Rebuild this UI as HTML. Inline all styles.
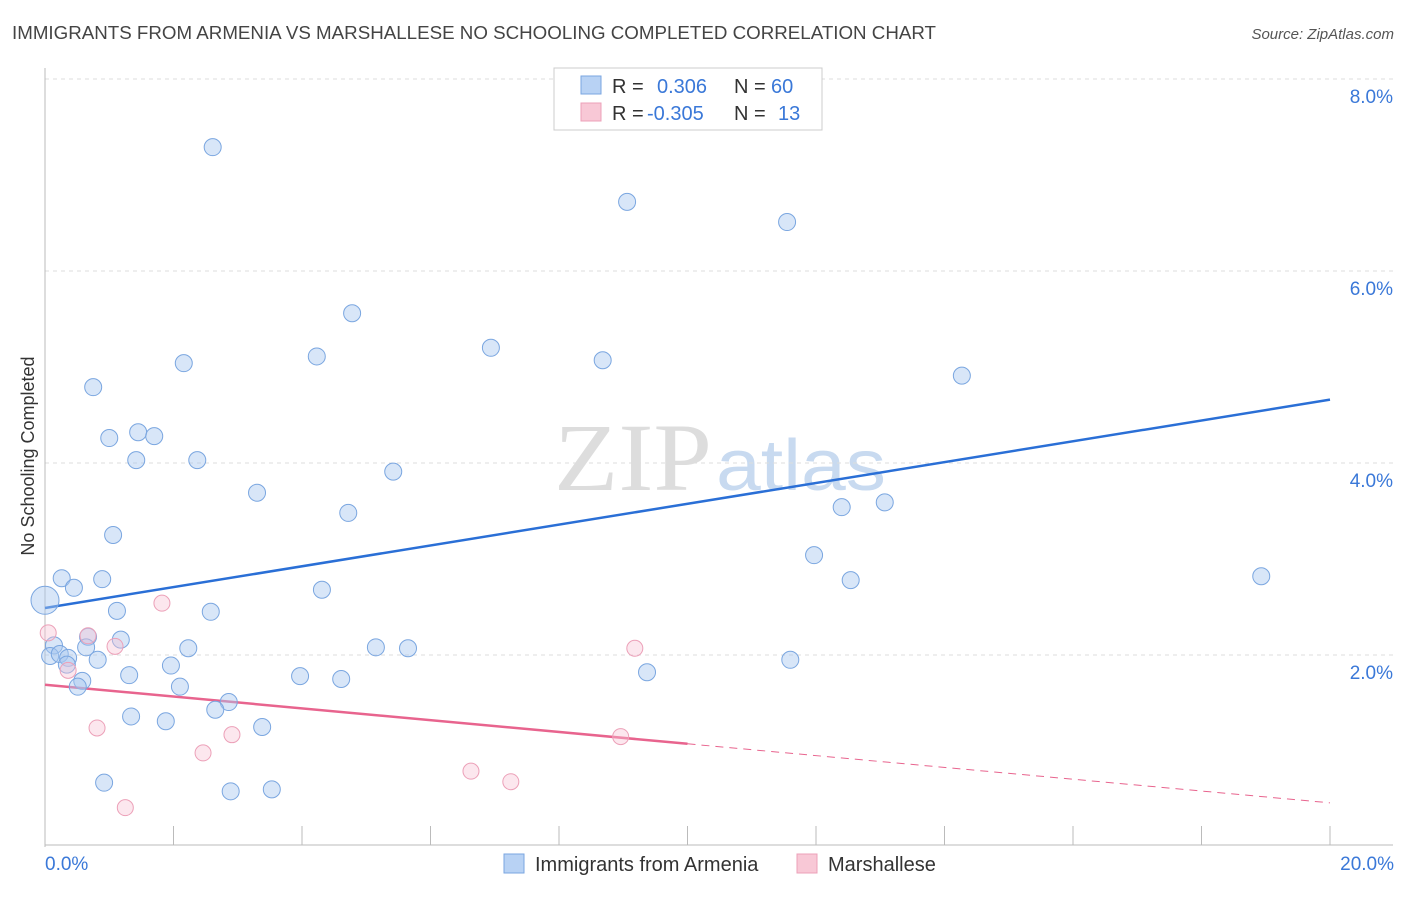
<!DOCTYPE html>
<html><head><meta charset="utf-8"><style>
body{margin:0;background:#fff;font-family:"Liberation Sans",sans-serif;}
</style></head><body>
<svg id="chart" width="1406" height="892" xmlns="http://www.w3.org/2000/svg">
<text x="12" y="39" font-size="18" fill="#444" textLength="924" lengthAdjust="spacingAndGlyphs">IMMIGRANTS FROM ARMENIA VS MARSHALLESE NO SCHOOLING COMPLETED CORRELATION CHART</text>
<text x="1394" y="39" font-size="15" fill="#555" font-style="italic" text-anchor="end">Source: ZipAtlas.com</text>
<text x="712" y="490" font-size="96" fill="#ddd" text-anchor="end" font-family="Liberation Serif" textLength="158" lengthAdjust="spacingAndGlyphs">ZIP</text>
<text x="716" y="490" font-size="72" fill="#c8daf0" textLength="170" lengthAdjust="spacingAndGlyphs">atlas</text>
<text x="34" y="456" font-size="18" fill="#333" text-anchor="middle" transform="rotate(-90 34 456)">No Schooling Completed</text>
<g id="grid"></g><g id="axes"></g><g id="lines"></g><g id="pts"></g>
<g>
<rect x="554" y="68" width="268" height="62" fill="#fff" stroke="#ccc"/>
<rect x="581" y="76" width="20" height="18" fill="#b8d2f4" stroke="#7aa6e0"/>
<rect x="581" y="103" width="20" height="18" fill="#f8c8d6" stroke="#eca0b8"/>
<text x="612" y="93" font-size="20" fill="#333">R = <tspan x="657" fill="#3a78d8">0.306</tspan><tspan x="734">N = </tspan><tspan x="771" fill="#3a78d8">60</tspan></text>
<text x="612" y="120" font-size="20" fill="#333">R = <tspan x="647" fill="#3a78d8">-0.305</tspan><tspan x="734">N = </tspan><tspan x="778" fill="#3a78d8">13</tspan></text>
</g>
<g>
<rect x="504" y="854" width="20" height="19" fill="#b8d2f4" stroke="#7aa6e0"/>
<text x="535" y="871" font-size="20" fill="#333">Immigrants from Armenia</text>
<rect x="797" y="854" width="20" height="19" fill="#f8c8d6" stroke="#eca0b8"/>
<text x="828" y="871" font-size="20" fill="#333">Marshallese</text>
</g>
</svg>
<script>
const blueX=[2.61,9.06,11.55,4.78,4.23,6.94,8.68,2.16,14.27,0.75,1.00,1.45,1.70,1.42,2.37,5.42,3.30,4.72,12.40,13.07,1.06,11.97,0.26,0.89,12.54,18.93,0.45,4.31,0,1.12,2.58,0.67,1.18,0.14,0.64,2.23,5.15,5.65,0.08,0.23,0.36,0.82,11.60,0.34,1.96,1.31,9.37,3.97,4.61,0.58,0.51,2.10,2.86,2.65,1.34,1.88,3.38,0.92,2.89,3.53];
const blueY=[7.29,6.72,6.51,5.56,5.11,5.20,5.07,5.04,4.91,4.79,4.26,4.32,4.28,4.03,4.03,3.91,3.69,3.48,3.54,3.59,3.25,3.04,2.80,2.79,2.78,2.82,2.70,2.68,2.57,2.46,2.45,2.19,2.16,2.10,2.08,2.07,2.08,2.07,1.99,2.01,1.97,1.95,1.95,1.90,1.89,1.79,1.82,1.78,1.75,1.73,1.67,1.67,1.51,1.43,1.36,1.31,1.25,0.67,0.58,0.60];
const pinkX=[0.05,0.67,1.09,1.82,0.36,9.18,0.81,2.46,2.91,8.96,6.63,7.25,1.25];
const pinkY=[2.23,2.20,2.09,2.54,1.84,2.07,1.24,0.98,1.17,1.15,0.79,0.68,0.41];
const blueTrend=[2.49,4.66];
const pinkTrend=[1.69,0.46];
const yTicks=[2,4,6,8];
const xTickLabels=["0.0%","20.0%"];
const NS="http://www.w3.org/2000/svg";
const X=v=>45+v*64.25, Y=v=>847-v*96;
function mk(t,a,p){const e=document.createElementNS(NS,t);for(const k in a)e.setAttribute(k,a[k]);document.getElementById(p).appendChild(e);return e;}
yTicks.forEach(t=>{
 const g=mk('line',{x1:45,x2:1393,y1:Y(t),y2:Y(t),stroke:'#ddd','stroke-dasharray':'4,4'},'grid');
 
 
 const l=mk('text',{x:1393,y:Y(t)+24,'font-size':19,fill:'#3a78d8','text-anchor':'end'},'grid');l.textContent=t.toFixed(1)+'%';
 
 
});
mk('line',{x1:45,x2:45,y1:68,y2:847,stroke:'#bbb'},'axes');
mk('line',{x1:45,x2:1393,y1:845,y2:845,stroke:'#bbb'},'axes');
for(let i=1;i<=10;i++){const t=mk('line',{x1:X(i*2),x2:X(i*2),y1:826,y2:845,stroke:'#bbb'},'axes');
 
 }
[[0,'start',45],[20,'end',1394]].forEach((d,i)=>{const l=mk('text',{x:d[2],y:870,'font-size':19,fill:'#3a78d8','text-anchor':d[1]},'axes');l.textContent=xTickLabels[i];
 
 });
const bl=mk('line',{x1:X(0),y1:Y(blueTrend[0]),x2:X(20),y2:Y(blueTrend[1]),stroke:'#2a6fd6','stroke-width':2.5},'lines');


const pm=pinkTrend[0]+(pinkTrend[1]-pinkTrend[0])/2;
const pl=mk('line',{x1:X(0),y1:Y(pinkTrend[0]),x2:X(10),y2:Y(pm),stroke:'#e8648e','stroke-width':2.5},'lines');


const pd=mk('line',{x1:X(10),y1:Y(pm),x2:X(20),y2:Y(pinkTrend[1]),stroke:'#e8648e','stroke-width':1,'stroke-dasharray':'8,6'},'lines');


blueX.forEach((x,i)=>{const c=mk('circle',{cx:X(x),cy:Y(blueY[i]),r:x===0?14:8.5,fill:'rgba(168,200,240,0.45)',stroke:'#7aa6e0','stroke-width':1},'pts');
 
 });
pinkX.forEach((x,i)=>{const c=mk('circle',{cx:X(x),cy:Y(pinkY[i]),r:8,fill:'rgba(248,196,212,0.4)',stroke:'#eca0b8','stroke-width':1},'pts');
 
 });
</script>
</body></html>
